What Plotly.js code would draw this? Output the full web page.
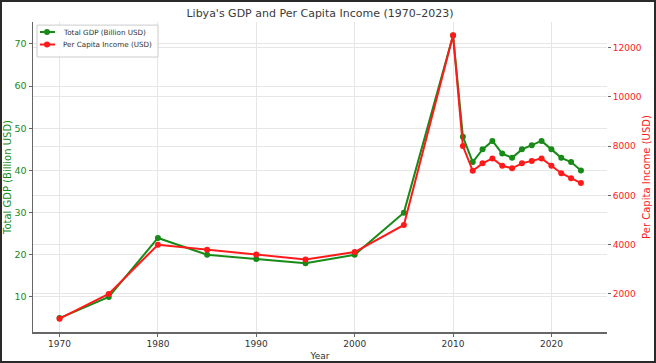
<!DOCTYPE html>
<html>
<head>
<meta charset="utf-8">
<script src="https://cdn.plot.ly/plotly-3.0.1.min.js"></script>
<style>
html,body{margin:0;padding:0;background:#fff;}
#wrap{width:656px;height:363px;box-sizing:border-box;border:2px solid #2a2a2a;overflow:hidden;}
#chart{width:652px;height:359px;}
</style>
</head>
<body>
<div id="wrap"><div id="chart"></div></div>
<script>
const years = [1970, 1975, 1980, 1985, 1990, 1995, 2000, 2005, 2010, 2011, 2012, 2013, 2014, 2015, 2016, 2017, 2018, 2019, 2020, 2021, 2022, 2023];
const gdpBillion = [5, 10, 24, 20, 19, 18, 20, 30, 72, 48, 42, 45, 47, 44, 43, 45, 46, 47, 45, 43, 42, 40];
const perCapita = [1000, 2000, 4000, 3800, 3600, 3400, 3700, 4800, 12500, 8000, 7000, 7300, 7500, 7200, 7100, 7300, 7400, 7500, 7200, 6900, 6700, 6500];
const xTicks = [1970, 1980, 1990, 2000, 2010, 2020];
const gdpTicks = [10, 20, 30, 40, 50, 60, 70];
const pcTicks = [2000, 4000, 6000, 8000, 10000, 12000];
const seriesNames = ['Total GDP (Billion USD)', 'Per Capita Income (USD)'];

const GREEN = '#178a17';
const RED = '#ff1a1a';
const COLORS = [GREEN, RED];
const FONT = 'DejaVu Sans, sans-serif';

const traces = [
  {x: years, y: gdpBillion, name: seriesNames[0], type: 'scatter', mode: 'lines+markers',
   line: {color: GREEN, width: 2}, marker: {color: GREEN, size: 6}, yaxis: 'y'},
  {x: years, y: perCapita, name: seriesNames[1], type: 'scatter', mode: 'lines+markers',
   line: {color: RED, width: 2}, marker: {color: RED, size: 6}, yaxis: 'y2'}
];

// compact matplotlib-style legend drawn with shapes + annotations (paper coords)
const legY = [0.9677, 0.9274];
const shapes = [
  {type: 'rect', xref: 'paper', yref: 'paper', x0: 0.0070, x1: 0.2178, y0: 0.887, y1: 0.990,
   line: {color: '#cccccc', width: 1}, fillcolor: 'rgba(255,255,255,0.9)', layer: 'above'}
];
const annotations = [];
seriesNames.forEach((nm, i) => {
  shapes.push({type: 'line', xref: 'paper', yref: 'paper', x0: 0.0122, x1: 0.0383, y0: legY[i], y1: legY[i],
               line: {color: COLORS[i], width: 2}, layer: 'above'});
  shapes.push({type: 'circle', xref: 'paper', yref: 'paper', xsizemode: 'pixel', ysizemode: 'pixel',
               xanchor: 0.0244, yanchor: legY[i], x0: -3, x1: 3, y0: -3, y1: 3,
               fillcolor: COLORS[i], line: {color: COLORS[i], width: 0}, layer: 'above'});
  annotations.push({xref: 'paper', yref: 'paper', x: 0.0480, y: legY[i], xanchor: 'left', yanchor: 'middle',
                    text: nm, showarrow: false, font: {family: FONT, size: 7.2, color: '#333'}});
});

const layout = {
  width: 652, height: 359,
  margin: {l: 31, r: 47, t: 20, b: 29},
  paper_bgcolor: '#fff', plot_bgcolor: '#fff',
  font: {family: FONT, size: 9, color: '#333'},
  title: {text: "Libya's GDP and Per Capita Income (1970–2023)", font: {family: FONT, size: 11, color: '#3a3a3a'},
          x: 0.5, xref: 'paper', xanchor: 'center', y: 0.98, yref: 'container', yanchor: 'top'},
  showlegend: false,
  shapes: shapes,
  annotations: annotations,
  xaxis: {range: [1967.3, 2025.65], tickvals: xTicks, ticktext: xTicks.map(String),
          showgrid: true, gridcolor: '#e6e6e6', gridwidth: 1, zeroline: false,
          showline: true, linecolor: '#666', linewidth: 1.5,
          ticks: 'outside', ticklen: 3, tickcolor: '#666', tickfont: {family: FONT, size: 9, color: '#333'},
          title: {text: 'Year', font: {family: FONT, size: 9, color: '#333'}, standoff: 4}},
  yaxis: {range: [1.7, 75.2], tickvals: gdpTicks, ticktext: gdpTicks.map(String),
          showgrid: true, gridcolor: '#e6e6e6', gridwidth: 1, zeroline: false,
          showline: true, linecolor: '#666', linewidth: 1.5,
          ticks: 'outside', ticklen: 3, tickcolor: '#666', tickfont: {family: FONT, size: 9.5, color: GREEN},
          title: {text: 'Total GDP (Billion USD)', font: {family: FONT, size: 10, color: GREEN}, standoff: 4}},
  yaxis2: {range: [458, 13035], tickvals: pcTicks, ticktext: pcTicks.map(String), overlaying: 'y', side: 'right',
          showgrid: true, gridcolor: '#e6e6e6', gridwidth: 1, zeroline: false, showline: false,
          ticks: 'outside', ticklen: 3, tickcolor: '#666', tickfont: {family: FONT, size: 9, color: RED},
          title: {text: 'Per Capita Income (USD)', font: {family: FONT, size: 10, color: RED}, standoff: 2}}
};

Plotly.newPlot('chart', traces, layout, {displayModeBar: false, staticPlot: true});
</script>
</body>
</html>
